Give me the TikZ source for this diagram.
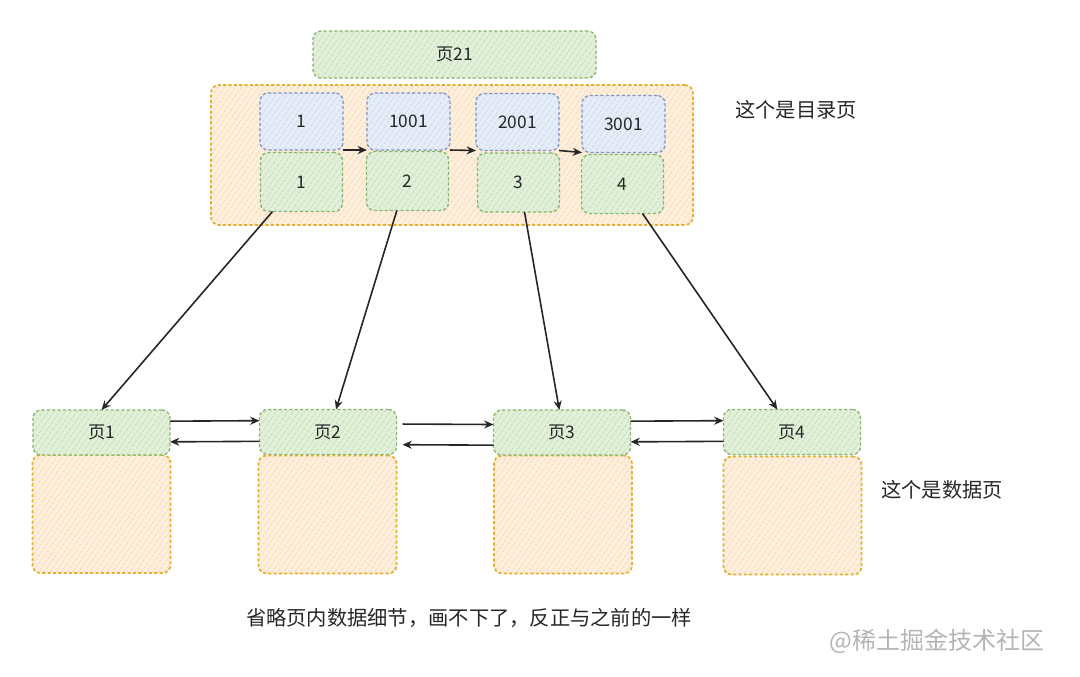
\documentclass[tikz,border=0pt]{standalone}
\usepackage{fontspec}
\newfontfamily\cjk{Noto Sans CJK SC}
\usepackage{tikz}
\usetikzlibrary{arrows.meta, positioning, patterns.meta}
\usepackage{xcolor}

\definecolor{grnfill}{HTML}{E2F0DA}
\definecolor{grnhatch}{HTML}{BFDDB1}
\definecolor{grnline}{HTML}{86B671}
\definecolor{orgfill}{HTML}{FEEFDD}
\definecolor{orghatch}{HTML}{F6D5B0}
\definecolor{orgline}{HTML}{E4B034}
\definecolor{blufill}{HTML}{E6EDF8}
\definecolor{bluhatch}{HTML}{C9D6EC}
\definecolor{bluline}{HTML}{7C95C4}
\definecolor{markgray}{HTML}{B4B4B4}

\tikzset{
  sketch/.style={rounded corners=6pt, line width=1pt, dash pattern=on 2.4pt off 1.6pt,
    inner sep=0pt, outer sep=0pt, font=\cjk\fontsize{13}{15}\selectfont, text=black!85},
  greenbox/.style={sketch, draw=grnline, preaction={fill=grnfill},
    pattern={Lines[angle=55, distance=3.5pt, line width=0.5pt]}, pattern color=grnhatch},
  orangebox/.style={sketch, draw=orgline, line width=1.3pt, preaction={fill=orgfill},
    pattern={Lines[angle=55, distance=3.5pt, line width=0.5pt]}, pattern color=orghatch},
  bluebox/.style={sketch, draw=bluline, preaction={fill=blufill},
    pattern={Lines[angle=55, distance=3.5pt, line width=0.5pt]}, pattern color=bluhatch},
  keybox/.style={bluebox, minimum width=62.25pt, minimum height=42.75pt},
  ptrbox/.style={greenbox, minimum width=61.5pt, minimum height=44.25pt},
  headbox/.style={greenbox, minimum width=102.75pt, minimum height=33.75pt},
  databox/.style={orangebox, minimum width=103.5pt, minimum height=88.5pt},
  link/.style={-{Stealth[length=7pt, width=6pt]}, line width=1.2pt, black!85},
  note/.style={font=\cjk\fontsize{15.2}{17}\selectfont, text=black!85}
}

\begin{document}
\begin{tikzpicture}[x=0.75pt, y=-0.75pt]
    \useasboundingbox (0,0) rectangle (1080,676);

    % Directory page
    \node[greenbox, minimum width=212.25pt, minimum height=35.25pt] (p21) at (454.5,54.5) {页21};
    \node[orangebox, minimum width=361.5pt, minimum height=105pt] (dir) at (452,155) {};

    % Keys and page numbers
    \node[keybox] (keya) at (301.5,121.5) {1};
    \node[keybox] (keyb) at (408.5,121.5) {1001};
    \node[keybox] (keyc) at (517.5,122) {2001};
    \node[keybox] (keyd) at (623.5,124) {3001};
    \node[ptrbox] (ptra) at (301.5,182) {1};
    \node[ptrbox] (ptrb) at (407.5,181) {2};
    \node[ptrbox] (ptrc) at (518.5,182.5) {3};
    \node[ptrbox] (ptrd) at (622.5,184) {4};

    \draw[link] (keya.south east) -- (keyb.south west);
    \draw[link] (keyb.south east) -- (keyc.south west);
    \draw[link] (keyc.south east) -- (keyd.south west);

    \node[note] (dirnote) at (796,110) {这个是目录页};

    % Data pages
    \node[databox] (da) at (101.5,514) {};
    \node[databox] (db) at (327.5,514.5) {};
    \node[databox] (dc) at (563,514.5) {};
    \node[databox] (dd) at (792.5,515.5) {};
    \node[headbox] (pga) at (101.5,432.5) {页1};
    \node[headbox] (pgb) at (328,432) {页2};
    \node[headbox] (pgc) at (562,432.5) {页3};
    \node[headbox] (pgd) at (792,432) {页4};

    % Sibling links
    \draw[link] ([yshift=8.5pt]pga.east) -- ([yshift=8.5pt]pgb.west);
    \draw[link] ([yshift=-7pt]pgb.west) -- ([yshift=-7pt]pga.east);
    \draw[link, shorten <=4.5pt] ([yshift=6pt]pgb.east) -- ([yshift=6pt]pgc.west);
    \draw[link, shorten >=4.5pt] ([yshift=-9.5pt]pgc.west) -- ([yshift=-9.5pt]pgb.east);
    \draw[link] ([yshift=8.5pt]pgc.east) -- ([yshift=8.5pt]pgd.west);
    \draw[link] ([yshift=-7pt]pgd.west) -- ([yshift=-7pt]pgc.east);

    % Directory to data pages
    \draw[link] ([xshift=9pt]ptra.south west) -- (pga.north);
    \draw[link] ([xshift=-8pt]ptrb.south) -- ([xshift=6pt]pgb.north);
    \draw[link] ([xshift=4.5pt]ptrc.south) -- ([xshift=-2pt]pgc.north);
    \draw[link] ([xshift=15pt]ptrd.south) -- ([xshift=-11pt]pgd.north);

    \node[note] (datanote) at (942,490) {这个是数据页};
    \node[note] (omit) at (469,618) {省略页内数据细节，画不下了，反正与之前的一样};
    \node[font=\cjk\fontsize{18}{20}\selectfont, text=markgray] (mark) at (937,641) {@稀土掘金技术社区};
\end{tikzpicture}
\end{document}
